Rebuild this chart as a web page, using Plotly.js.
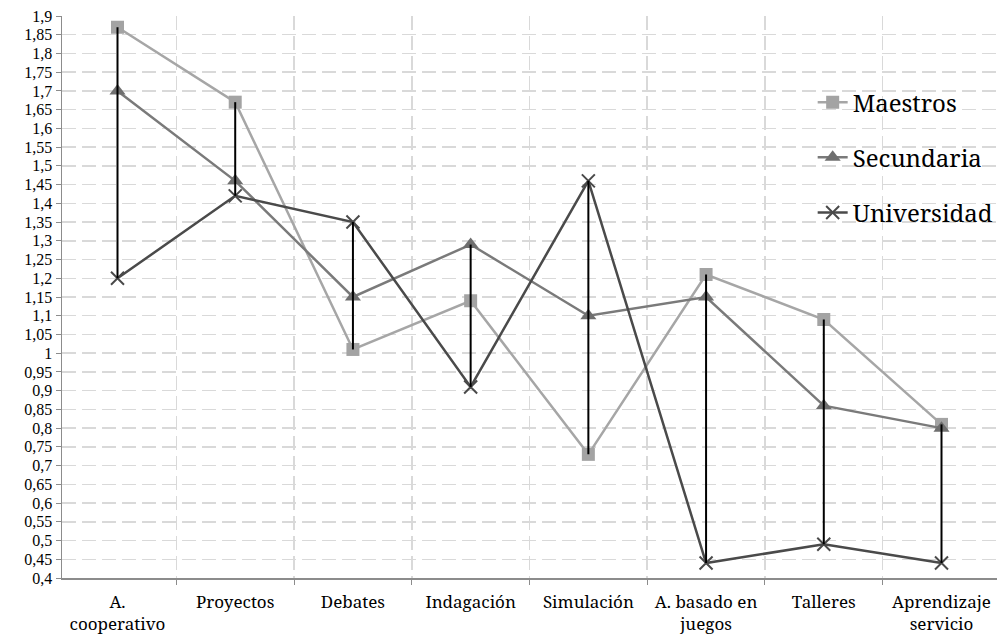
<!DOCTYPE html>
<html>
<head>
<meta charset="utf-8">
<script src="https://cdn.plot.ly/plotly-3.0.1.min.js"></script>
<style>html,body{margin:0;padding:0;background:#fff;}#chart{width:1003px;height:640px;}</style>
</head>
<body>
<div id="chart"></div>
<script>
const categories = ["A.<br>cooperativo", "Proyectos", "Debates", "Indagación", "Simulación", "A. basado en<br>juegos", "Talleres", "Aprendizaje<br>servicio"];
const maestros = [1.87, 1.67, 1.01, 1.14, 0.73, 1.21, 1.09, 0.81];
const secundaria = [1.70, 1.46, 1.15, 1.29, 1.10, 1.15, 0.86, 0.80];
const universidad = [1.20, 1.42, 1.35, 0.91, 1.46, 0.44, 0.49, 0.44];
const yTickVals = [0.4,0.45,0.5,0.55,0.6,0.65,0.7,0.75,0.8,0.85,0.9,0.95,1,1.05,1.1,1.15,1.2,1.25,1.3,1.35,1.4,1.45,1.5,1.55,1.6,1.65,1.7,1.75,1.8,1.85,1.9];
const yTickText = ["0,4","0,45","0,5","0,55","0,6","0,65","0,7","0,75","0,8","0,85","0,9","0,95","1","1,05","1,1","1,15","1,2","1,25","1,3","1,35","1,4","1,45","1,5","1,55","1,6","1,65","1,7","1,75","1,8","1,85","1,9"];

// high-low lines built from the series
const hlX = [], hlY = [];
categories.forEach((c, i) => {
  const vals = [maestros[i], secundaria[i], universidad[i]];
  hlX.push(c, c, null);
  hlY.push(Math.min(...vals), Math.max(...vals), null);
});

const FONT = "Noto Serif";
const YFONT = "Liberation Serif";

const traces = [
  {x: categories, y: maestros, name: "Maestros", type: "scatter", mode: "lines+markers",
   legendgroup: "a",
   line: {color: "#a6a6a6", width: 2.5},
   marker: {symbol: "square", size: 13, color: "#a3a3a3"}},
  {x: categories, y: secundaria, name: "Secundaria", type: "scatter", mode: "lines+markers",
   legendgroup: "b",
   line: {color: "#7a7a7a", width: 2.5},
   marker: {symbol: "triangle-up", size: 14, color: "#6f6f6f"}},
  {x: categories, y: universidad, name: "Universidad", type: "scatter", mode: "lines+markers",
   legendgroup: "c",
   line: {color: "#4a4a4a", width: 2.5},
   marker: {symbol: "x-thin", size: 13, line: {color: "#4a4a4a", width: 2}}},
  {x: hlX, y: hlY, type: "scatter", mode: "lines", showlegend: false, hoverinfo: "skip",
   line: {color: "#000000", width: 2}}
];

const layout = {
  width: 1003, height: 640,
  margin: {l: 62, r: 5, t: 16, b: 62},
  paper_bgcolor: "#ffffff", plot_bgcolor: "#ffffff",
  font: {family: FONT, size: 17, color: "#000000"},
  showlegend: true,
  legend: {
    x: 0.802, xanchor: "left", y: 0.886, yanchor: "top",
    bgcolor: "rgba(0,0,0,0)",
    font: {family: FONT, size: 24, color: "#000000"},
    traceorder: "grouped", tracegroupgap: 21,
    itemwidth: 30
  },
  xaxis: {
    type: "category",
    tickson: "boundaries",
    showgrid: true, gridcolor: "#d9d9d9", gridwidth: 1.5, griddash: "14px,6px",
    showline: true, linecolor: "#8c8c8c", linewidth: 1.5,
    ticks: "outside", ticklen: 5, tickcolor: "#8c8c8c",
    ticklabelstandoff: 8,
    tickfont: {family: FONT, size: 17, color: "#000000"},
    zeroline: false, fixedrange: true
  },
  yaxis: {
    range: [0.4, 1.9],
    tickvals: yTickVals, ticktext: yTickText,
    showgrid: true, gridcolor: "#d9d9d9", gridwidth: 1.5, griddash: "14px,6px",
    showline: true, linecolor: "#8c8c8c", linewidth: 1.5,
    ticks: "outside", ticklen: 5, tickcolor: "#8c8c8c",
    tickfont: {family: YFONT, size: 16, color: "#000000"},
    zeroline: false, fixedrange: true
  }
};

Plotly.newPlot("chart", traces, layout, {displayModeBar: false, staticPlot: true});
</script>
</body>
</html>
